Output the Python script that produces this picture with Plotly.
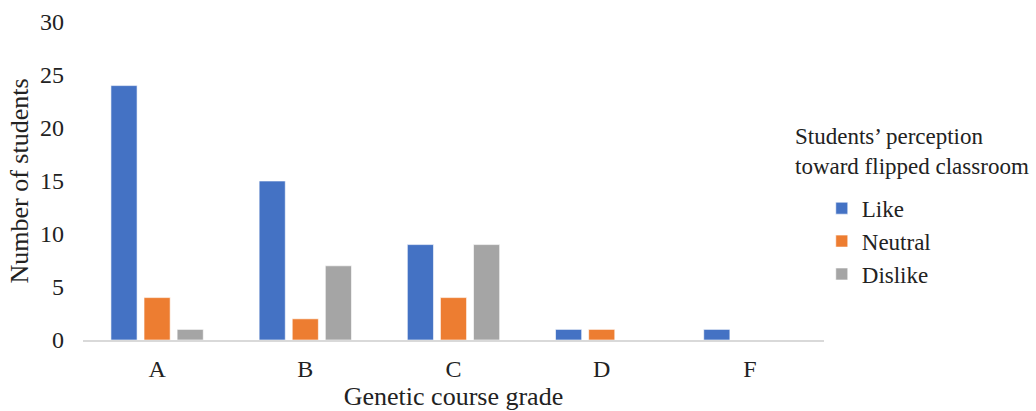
import plotly.graph_objects as go

grades = ["A", "B", "C", "D", "F"]
like = [24, 15, 9, 1, 1]
neutral = [4, 2, 4, 1, 0]
dislike = [1, 7, 9, 0, 0]
series_names = ["Like", "Neutral", "Dislike"]
colors = ["#4472C4", "#ED7D31", "#A5A5A5"]
y_ticks = [0, 5, 10, 15, 20, 25, 30]

FONT = "Liberation Serif, Times New Roman, serif"

fig = go.Figure()
for name, vals, col in zip(series_names, [like, neutral, dislike], colors):
    fig.add_trace(go.Bar(
        x=grades, y=vals, name=name, legendgroup=name,
        marker=dict(color=col, line=dict(color="rgba(255,255,255,0.6)", width=1)),
    ))

fig.update_layout(
    width=1036, height=411,
    margin=dict(l=83, r=212, t=22, b=71),
    paper_bgcolor="white", plot_bgcolor="white",
    font=dict(family=FONT, color="#222222", size=23),
    barmode="group", bargap=0.33, bargroupgap=0.21,
    showlegend=True,
    legend=dict(
        x=0.997, xanchor="left", y=0.482, yanchor="top",
        font=dict(family=FONT, size=23, color="#222222"),
        traceorder="grouped", tracegroupgap=0,
        bgcolor="rgba(0,0,0,0)",
    ),
    annotations=[dict(
        text="Students’ perception<br>toward flipped classroom",
        xref="paper", yref="paper", x=0.958, y=0.594,
        xanchor="left", yanchor="middle", align="left", showarrow=False,
        font=dict(family=FONT, size=23, color="#222222"),
    )],
)

fig.update_xaxes(
    automargin=False,
    showline=True, linecolor="#d9d9d9", linewidth=1.5,
    showgrid=False, ticks="", ticklabelstandoff=6,
    tickfont=dict(family=FONT, size=24),
    title=dict(text="Genetic course grade", font=dict(family=FONT, size=26), standoff=8),
)
fig.update_yaxes(
    automargin=False,
    range=[0, 30], tickvals=y_ticks, showgrid=False, zeroline=False,
    showline=False, ticks="", ticklabelstandoff=18,
    tickfont=dict(family=FONT, size=24),
    title=dict(text="Number of students", font=dict(family=FONT, size=26), standoff=3),
)

fig.write_html("out.html")
